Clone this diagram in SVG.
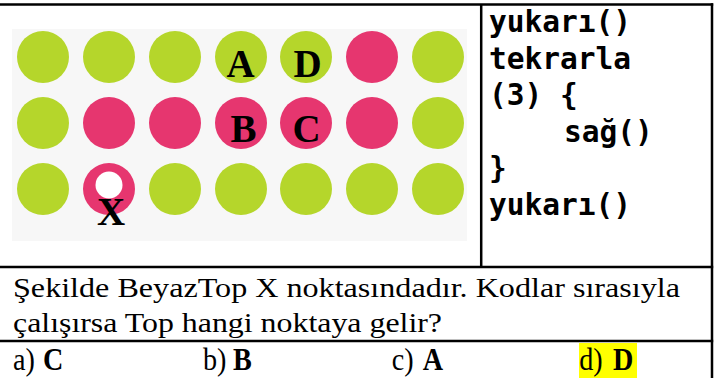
<svg xmlns="http://www.w3.org/2000/svg" width="724" height="378" viewBox="0 0 724 378">
<style>
.g{fill:#b5d62b}
.p{fill:#e6366f}
.lbl{font-family:"Liberation Serif","Times New Roman",serif;font-weight:bold;font-size:39px;fill:#000;text-anchor:middle}
.code{font-family:"DejaVu Sans Mono","Liberation Mono",monospace;font-weight:bold;font-size:29.5px;fill:#000}
.q{font-family:"Liberation Serif","Times New Roman",serif;font-size:28px;fill:#000}
.o{font-family:"Liberation Serif","Times New Roman",serif;font-size:32px;fill:#000}
.b{font-weight:bold}
.ln{stroke:#000;stroke-width:2.5;fill:none}
</style>
<rect width="724" height="378" fill="#fff"/>
<g id="grid">
<rect x="12" y="29" width="455" height="212" fill="#f7f7f7"/>
<g id="row1">
<circle class="g" cx="43" cy="57" r="26"/>
<circle class="g" cx="109" cy="57" r="26"/>
<circle class="g" cx="175" cy="57" r="26"/>
<circle class="g" cx="241" cy="57" r="26"/>
<circle class="g" cx="306" cy="57" r="26"/>
<circle class="p" cx="372" cy="57" r="26"/>
<circle class="g" cx="438" cy="57" r="26"/>
</g>
<g id="row2">
<circle class="g" cx="43" cy="123" r="26"/>
<circle class="p" cx="109" cy="123" r="26"/>
<circle class="p" cx="175" cy="123" r="26"/>
<circle class="p" cx="241" cy="123" r="26"/>
<circle class="p" cx="306" cy="123" r="26"/>
<circle class="p" cx="372" cy="123" r="26"/>
<circle class="g" cx="438" cy="123" r="26"/>
</g>
<g id="row3">
<circle class="g" cx="43" cy="189" r="26"/>
<circle class="p" cx="109" cy="189" r="26"/>
<circle class="g" cx="175" cy="189" r="26"/>
<circle class="g" cx="241" cy="189" r="26"/>
<circle class="g" cx="306" cy="189" r="26"/>
<circle class="g" cx="372" cy="189" r="26"/>
<circle class="g" cx="438" cy="189" r="26"/>
</g>
<circle id="ball" cx="109" cy="185" r="13.5" fill="#fff"/>
<g id="labels">
<text class="lbl" x="240.5" y="77">A</text>
<text class="lbl" x="307.5" y="77">D</text>
<text class="lbl" x="243.5" y="142">B</text>
<text class="lbl" x="306.5" y="142">C</text>
<text class="lbl" x="111" y="225">X</text>
</g>
</g>
<g id="code">
<text class="code" x="489" y="32">yukarı()</text>
<text class="code" x="489" y="69">tekrarla</text>
<text class="code" x="489" y="105">(3) {</text>
<text class="code" x="564" y="142">sağ()</text>
<text class="code" x="489" y="178">}</text>
<text class="code" x="489" y="215">yukarı()</text>
</g>
<g id="question">
<text class="q" x="13" y="297" textLength="667" lengthAdjust="spacingAndGlyphs">Şekilde BeyazTop X noktasındadır. Kodlar sırasıyla</text>
<text class="q" x="13" y="332" textLength="429" lengthAdjust="spacingAndGlyphs">çalışırsa Top hangi noktaya gelir?</text>
</g>
<g id="options">
<rect x="579" y="343" width="58" height="35" fill="#ffff00"/>
<g transform="scale(0.88,1)">
<text class="o" x="14.8" y="370">a)</text>
<text class="o b" x="48.9" y="370">C</text>
<text class="o" x="230.7" y="370">b)</text>
<text class="o b" x="264.8" y="370">B</text>
<text class="o" x="445.1" y="370">c)</text>
<text class="o b" x="480.3" y="370">A</text>
<text class="o" x="658.3" y="370">d)</text>
<text class="o b" x="696.6" y="370">D</text>
</g>
</g>
<g id="table">
<line class="ln" x1="0" y1="4.5" x2="713.2" y2="4.5"/>
<line class="ln" x1="712" y1="3.2" x2="712" y2="378"/>
<line class="ln" x1="481.2" y1="4.5" x2="481.2" y2="267"/>
<line class="ln" x1="0" y1="267" x2="713.2" y2="267"/>
<line class="ln" x1="0" y1="341" x2="713.2" y2="341"/>
</g>
</svg>
